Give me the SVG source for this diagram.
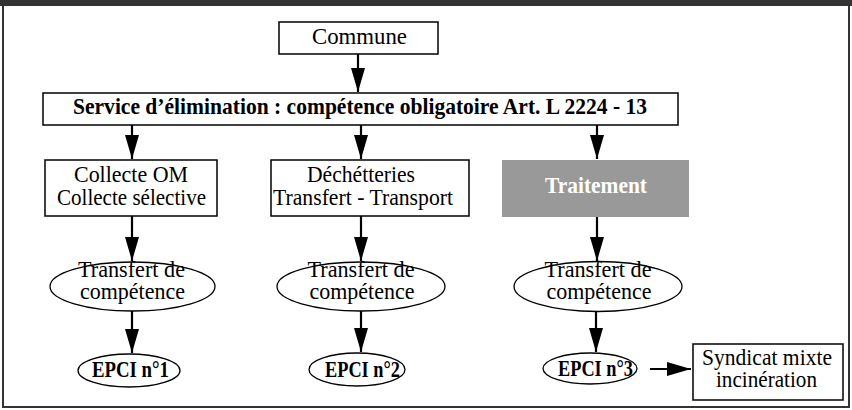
<svg xmlns="http://www.w3.org/2000/svg" width="852" height="410" viewBox="0 0 852 410">
<style>
.box{fill:#fff;stroke:#000;stroke-width:1.5}
.ell{fill:#fff;stroke:#000;stroke-width:1.3}
.t{font-family:"Liberation Serif","Times New Roman",serif;font-size:23px;fill:#000;text-anchor:middle}
.b{font-weight:bold}
.w{fill:#fff}
.c{stroke:#000;stroke-width:2.2;fill:none;marker-end:url(#ah)}
</style>
<defs>
<marker id="ah" markerUnits="userSpaceOnUse" markerWidth="24" markerHeight="14" refX="24" refY="7" orient="auto" viewBox="0 0 24 14">
<path d="M0,0 L24,7 L0,14 z" fill="#000"/>
</marker>
</defs>
<rect x="0" y="0" width="852" height="410" fill="#fff"/>
<rect x="0" y="0" width="852" height="6" fill="#333"/>
<rect x="3" y="5" width="846" height="402" fill="none" stroke="#333" stroke-width="2"/>
<g id="connectors">
<line class="c" x1="358" y1="54" x2="358" y2="92"/>
<line class="c" x1="132" y1="125" x2="132" y2="159"/>
<line class="c" x1="361" y1="125" x2="361" y2="159"/>
<line class="c" x1="597" y1="125" x2="597" y2="159"/>
<line class="c" x1="132" y1="216" x2="132" y2="261"/>
<line class="c" x1="361" y1="216" x2="361" y2="261"/>
<line class="c" x1="597" y1="217" x2="597" y2="261"/>
<line class="c" x1="132" y1="311" x2="132" y2="353"/>
<line class="c" x1="361" y1="311" x2="361" y2="352"/>
<line class="c" x1="596" y1="312" x2="596" y2="352"/>
<line class="c" x1="650" y1="369" x2="691" y2="369"/>
</g>
<g id="commune">
<rect class="box" x="279" y="22" width="159" height="32"/>
<text class="t" x="359.5" y="44" textLength="95" lengthAdjust="spacingAndGlyphs">Commune</text>
</g>
<g id="service">
<rect class="box" x="43" y="93" width="635" height="32"/>
<text class="t b" x="360" y="114" textLength="574" lengthAdjust="spacingAndGlyphs">Service d’élimination : compétence obligatoire Art. L 2224 - 13</text>
</g>
<g id="collecte">
<rect class="box" x="45" y="160" width="172" height="56"/>
<text class="t" x="131" y="182" textLength="114" lengthAdjust="spacingAndGlyphs">Collecte OM</text>
<text class="t" x="131.5" y="205" textLength="149" lengthAdjust="spacingAndGlyphs">Collecte sélective</text>
</g>
<g id="dechetteries">
<rect class="box" x="271" y="160" width="198" height="56"/>
<text class="t" x="361" y="182" textLength="108" lengthAdjust="spacingAndGlyphs">Déchétteries</text>
<text class="t" x="363" y="205" textLength="180" lengthAdjust="spacingAndGlyphs">Transfert - Transport</text>
</g>
<g id="traitement">
<rect x="502" y="160" width="187" height="57" fill="#999"/>
<text class="t b w" x="596" y="193" textLength="102" lengthAdjust="spacingAndGlyphs">Traitement</text>
</g>
<g id="transfert1">
<ellipse class="ell" cx="132.5" cy="286.5" rx="82.5" ry="24.5"/>
<text class="t" x="131.5" y="277" textLength="107" lengthAdjust="spacingAndGlyphs">Transfert de</text>
<text class="t" x="132.5" y="299" textLength="105" lengthAdjust="spacingAndGlyphs">compétence</text>
</g>
<g id="transfert2">
<ellipse class="ell" cx="361" cy="286.5" rx="84" ry="24.5"/>
<text class="t" x="361" y="277" textLength="107" lengthAdjust="spacingAndGlyphs">Transfert de</text>
<text class="t" x="362" y="299" textLength="105" lengthAdjust="spacingAndGlyphs">compétence</text>
</g>
<g id="transfert3">
<ellipse class="ell" cx="598" cy="286.5" rx="84" ry="25"/>
<text class="t" x="598" y="277" textLength="107" lengthAdjust="spacingAndGlyphs">Transfert de</text>
<text class="t" x="599" y="299" textLength="105" lengthAdjust="spacingAndGlyphs">compétence</text>
</g>
<g id="epci1">
<ellipse class="ell" cx="129" cy="370.5" rx="51" ry="16.5"/>
<text class="t b" x="130.5" y="377" font-size="22" textLength="77" lengthAdjust="spacingAndGlyphs">EPCI n°1</text>
</g>
<g id="epci2">
<ellipse class="ell" cx="357" cy="369.5" rx="48" ry="16.5"/>
<text class="t b" x="362.5" y="377" font-size="22" textLength="75" lengthAdjust="spacingAndGlyphs">EPCI n°2</text>
</g>
<g id="epci3">
<ellipse class="ell" cx="590" cy="368.5" rx="47" ry="15.5"/>
<text class="t b" x="595.5" y="376" font-size="22" textLength="75" lengthAdjust="spacingAndGlyphs">EPCI n°3</text>
</g>
<g id="syndicat">
<rect class="box" x="693" y="344" width="150" height="56"/>
<text class="t" x="767" y="365" textLength="130" lengthAdjust="spacingAndGlyphs">Syndicat mixte</text>
<text class="t" x="766.5" y="387" textLength="101" lengthAdjust="spacingAndGlyphs">incinération</text>
</g>
</svg>
